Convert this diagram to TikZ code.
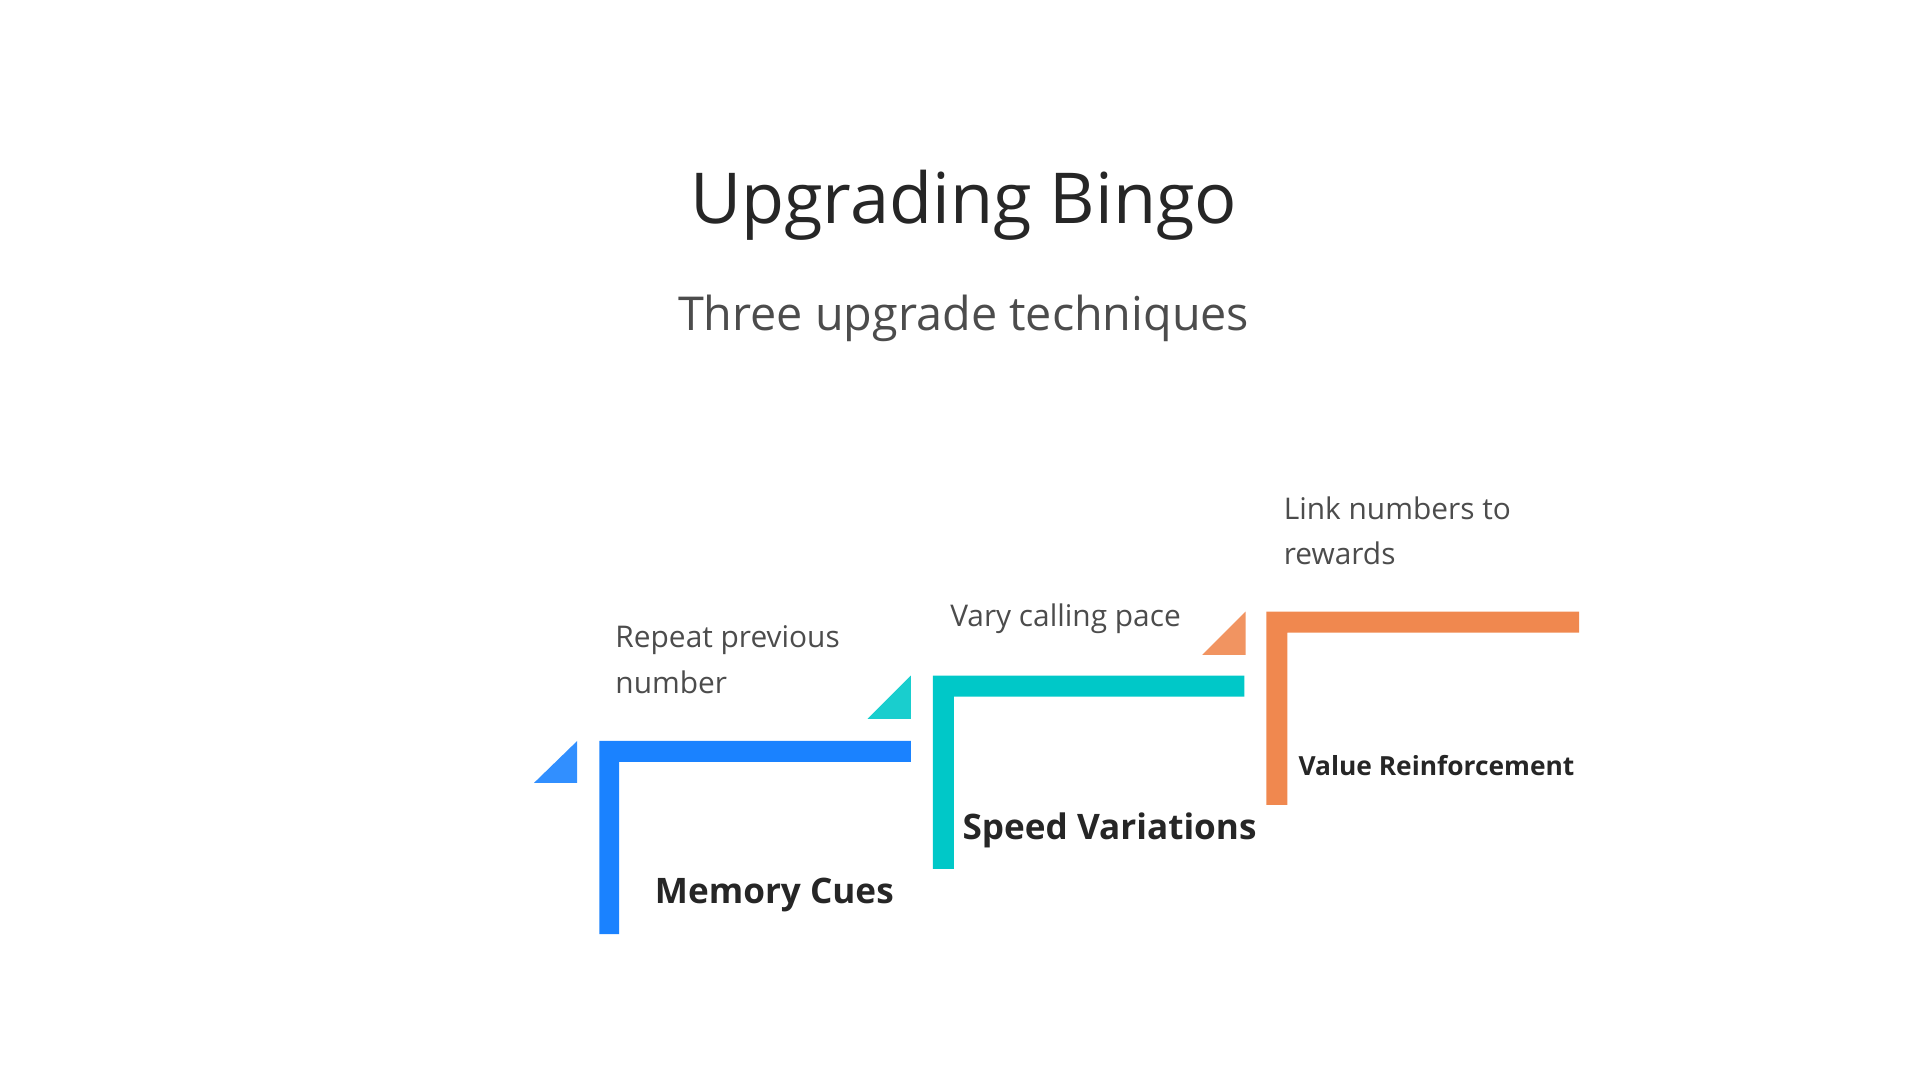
\documentclass[tikz,border=0pt]{standalone}
\usepackage{fontspec}
\setmainfont{Open Sans}
\definecolor{stepblue}{HTML}{1A82FF}
\definecolor{stepteal}{HTML}{00C8C8}
\definecolor{steporange}{HTML}{F0884F}
\begin{document}
\begin{tikzpicture}[x=0.012308cm,y=-0.012308cm,
  desc/.style={anchor=west,align=left,text=black!70,font=\fontsize{8.5}{12.9}\selectfont},
  lbl/.style={anchor=west,text=black!85,font=\bfseries\fontsize{10}{12}\selectfont}]

  \useasboundingbox (0,0) rectangle (1560,877.5);

  % Title and subtitle
  \node[text=black!85,font=\fontsize{20}{24}\selectfont] (title) at (783,167) {Upgrading Bingo};
  \node[text=black!70,font=\fontsize{13.3}{16}\selectfont] (subtitle) at (783,259) {Three upgrade techniques};

  % Step 1
  \fill[stepblue] (487,602) -- (740,602) -- (740,619) -- (503,619) -- (503,759) -- (487,759) -- cycle;
  \fill[stepblue!90] (434,636) -- (469,602) -- (469,636) -- cycle;
  \node[lbl] (memory) at (522,727) {Memory Cues};
  \node[desc] (repeat) at (490,536) {Repeat previous\\number};

  % Step 2
  \fill[stepteal] (758,549) -- (1011,549) -- (1011,566) -- (775,566) -- (775,706) -- (758,706) -- cycle;
  \fill[stepteal!90] (705,584) -- (740,549) -- (740,584) -- cycle;
  \node[lbl] (speed) at (772,675) {Speed Variations};
  \node[desc] (vary) at (762,503) {Vary calling pace};

  % Step 3
  \fill[steporange] (1029,497) -- (1283,497) -- (1283,514) -- (1046,514) -- (1046,654) -- (1029,654) -- cycle;
  \fill[steporange!90] (977,532) -- (1012,497) -- (1012,532) -- cycle;
  \node[lbl,font=\bfseries\fontsize{7.5}{9}\selectfont] (value) at (1045,622) {Value Reinforcement};
  \node[desc] (link) at (1033,431) {Link numbers to\\rewards};

\end{tikzpicture}
\end{document}
